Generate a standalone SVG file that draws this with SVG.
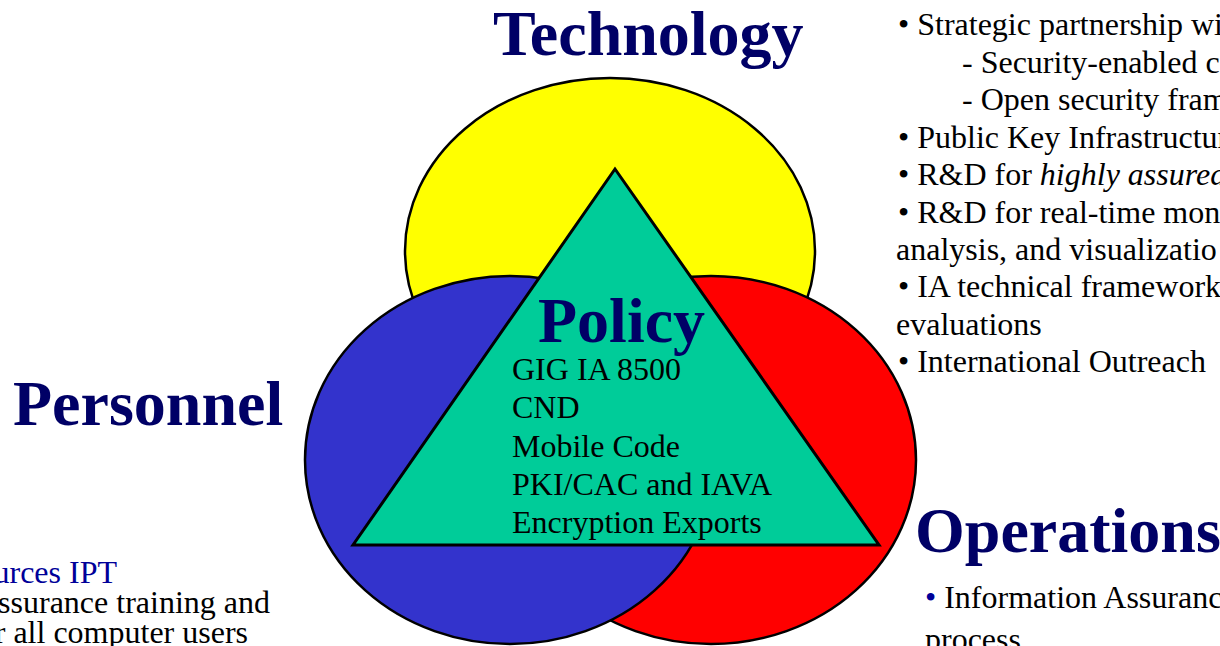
<svg xmlns="http://www.w3.org/2000/svg" width="1220" height="646" viewBox="0 0 1220 646">
<style>
.head{font-family:"Liberation Serif","Times New Roman",serif;font-weight:bold;font-size:64px;fill:#000066}
.body{font-family:"Liberation Serif","Times New Roman",serif;font-size:32px;fill:#000000}
.shape{stroke:#000000;stroke-width:2.5}
</style>
<rect x="0" y="0" width="1220" height="646" fill="#ffffff"/>
<g id="technology-circle"><ellipse class="shape" cx="610" cy="251" rx="205" ry="173" fill="#FFFF00"/></g>
<g id="operations-circle"><ellipse class="shape" cx="711" cy="460" rx="205" ry="184" fill="#FF0000"/></g>
<g id="personnel-circle"><ellipse class="shape" cx="510" cy="460" rx="205" ry="184" fill="#3333CC"/></g>
<g id="policy-triangle">
<polygon points="615,169 353,545 879,545" fill="#00CC99" stroke="#000000" stroke-width="3" stroke-linejoin="miter"/>
<text class="head" x="538" y="342">Policy</text>
<text class="body" x="512" y="380">GIG IA 8500</text>
<text class="body" x="512" y="418">CND</text>
<text class="body" x="512" y="457">Mobile Code</text>
<text class="body" x="512" y="495">PKI/CAC and IAVA</text>
<text class="body" x="512" y="533">Encryption Exports</text>
</g>
<g id="technology">
<text class="head" x="493" y="55">Technology</text>
<text class="body" x="898" y="35">• Strategic partnership wi</text>
<text class="body" x="962" y="73">- Security-enabled c</text>
<text class="body" x="962" y="110">- Open security fram</text>
<text class="body" x="898" y="148">• Public Key Infrastructur</text>
<text class="body" x="898" y="185">• R&amp;D for <tspan font-style="italic">highly assured</tspan></text>
<text class="body" x="898" y="223">• R&amp;D for real-time mon</text>
<text class="body" x="896" y="260">analysis, and visualizatio</text>
<text class="body" x="898" y="297">• IA technical framework</text>
<text class="body" x="896" y="335">evaluations</text>
<text class="body" x="898" y="372">• International Outreach</text>
</g>
<g id="personnel">
<text class="head" x="13" y="425">Personnel</text>
<text class="body" x="117" y="583" text-anchor="end" style="fill:#000099">urces IPT</text>
<text class="body" x="270" y="613" text-anchor="end">ssurance training and</text>
<text class="body" x="248" y="643" text-anchor="end">r all computer users</text>
</g>
<g id="operations">
<text class="head" x="915" y="552">Operations</text>
<text class="body" x="925" y="608"><tspan style="fill:#000099">•</tspan> Information Assuranc</text>
<text class="body" x="925" y="650">process</text>
</g>
<g id="connectors"></g>
</svg>
